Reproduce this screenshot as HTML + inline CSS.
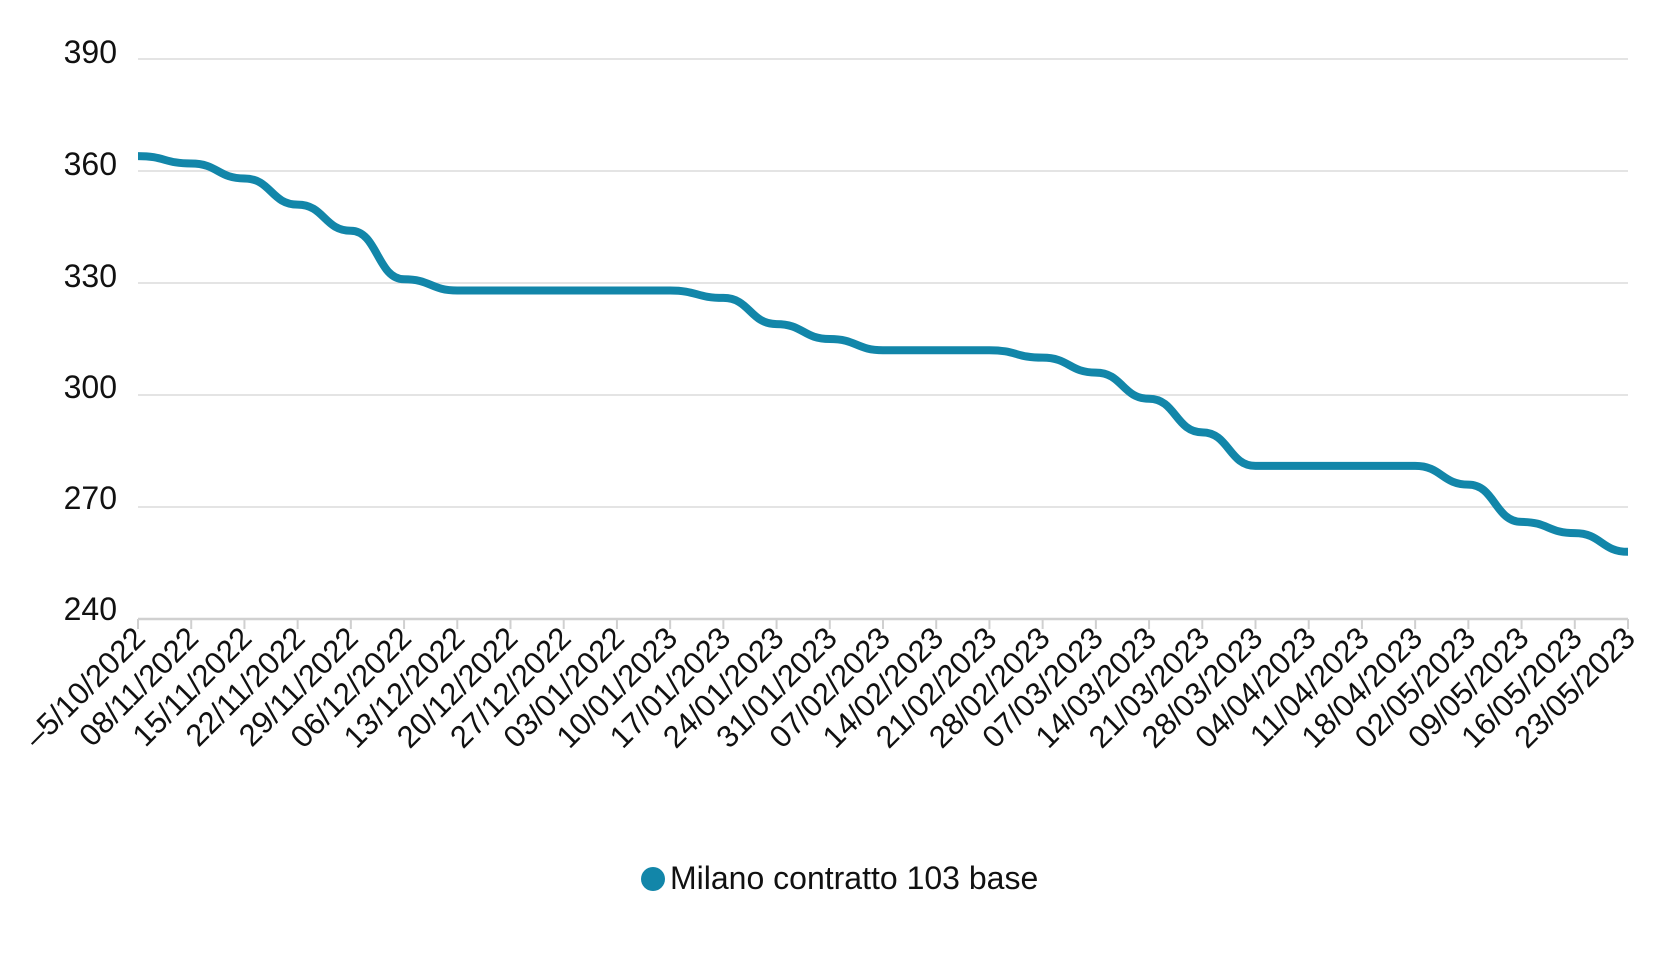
<!DOCTYPE html>
<html><head><meta charset="utf-8"><style>html,body{margin:0;padding:0;background:#fff}svg{display:block}</style></head>
<body>
<svg id="c" width="1680" height="960" xmlns="http://www.w3.org/2000/svg" font-family="Liberation Sans, Arial, sans-serif">
<g stroke="#dcdcdc" stroke-width="1.5">
<line x1="138" x2="1628" y1="59" y2="59"/>
<line x1="138" x2="1628" y1="171" y2="171"/>
<line x1="138" x2="1628" y1="283" y2="283"/>
<line x1="138" x2="1628" y1="395" y2="395"/>
<line x1="138" x2="1628" y1="507" y2="507"/>
</g>
<line x1="138" x2="1628" y1="619" y2="619" stroke="#d0d0d0" stroke-width="2.5"/>
<g font-size="32" fill="#111" text-anchor="end">
<text x="117" y="63">390</text>
<text x="117" y="175">360</text>
<text x="117" y="287">330</text>
<text x="117" y="398">300</text>
<text x="117" y="509">270</text>
<text x="117" y="620">240</text>
</g>
<g id="ticks" stroke="#d0d0d0" stroke-width="2"></g>
<g id="labels" font-size="31" fill="#111" text-anchor="end"></g>
<path id="line" fill="none" stroke="#1286a9" stroke-width="8" stroke-linecap="butt"/>
<circle cx="653" cy="879" r="12" fill="#1286a9"/>
<text x="670" y="889" font-size="32" fill="#111">Milano contratto 103 base</text>
</svg>
<script>
var labels=["–5/10/2022","08/11/2022","15/11/2022","22/11/2022","29/11/2022","06/12/2022","13/12/2022","20/12/2022","27/12/2022","03/01/2022","10/01/2023","17/01/2023","24/01/2023","31/01/2023","07/02/2023","14/02/2023","21/02/2023","28/02/2023","07/03/2023","14/03/2023","21/03/2023","28/03/2023","04/04/2023","11/04/2023","18/04/2023","02/05/2023","09/05/2023","16/05/2023","23/05/2023"];
var vals=[364,362,358,351,344,331,328,328,328,328,328,326,319,315,312,312,312,310,306,299,290,281,281,281,281,276,266,263,258];
var ns="http://www.w3.org/2000/svg";
var step=(1628-138)/28,d="";
var tg=document.getElementById("ticks"),lg=document.getElementById("labels");
for(var i=0;i<29;i++){
 var x=138+i*step,y=59+(390-vals[i])*112/30;
 if(i==0)d="M"+x+","+y;else{var px=138+(i-1)*step,py=59+(390-vals[i-1])*112/30;d+=" C"+(px+step*0.5)+","+py+" "+(x-step*0.5)+","+y+" "+x+","+y;}
 var l=document.createElementNS(ns,"line");l.setAttribute("x1",x);l.setAttribute("x2",x);l.setAttribute("y1",619);l.setAttribute("y2",629);tg.appendChild(l);
 var t=document.createElementNS(ns,"text");t.setAttribute("transform","translate("+(x+9)+",640) rotate(-45)");t.textContent=labels[i];lg.appendChild(t);
}
document.getElementById("line").setAttribute("d",d);
</script>
</body></html>
